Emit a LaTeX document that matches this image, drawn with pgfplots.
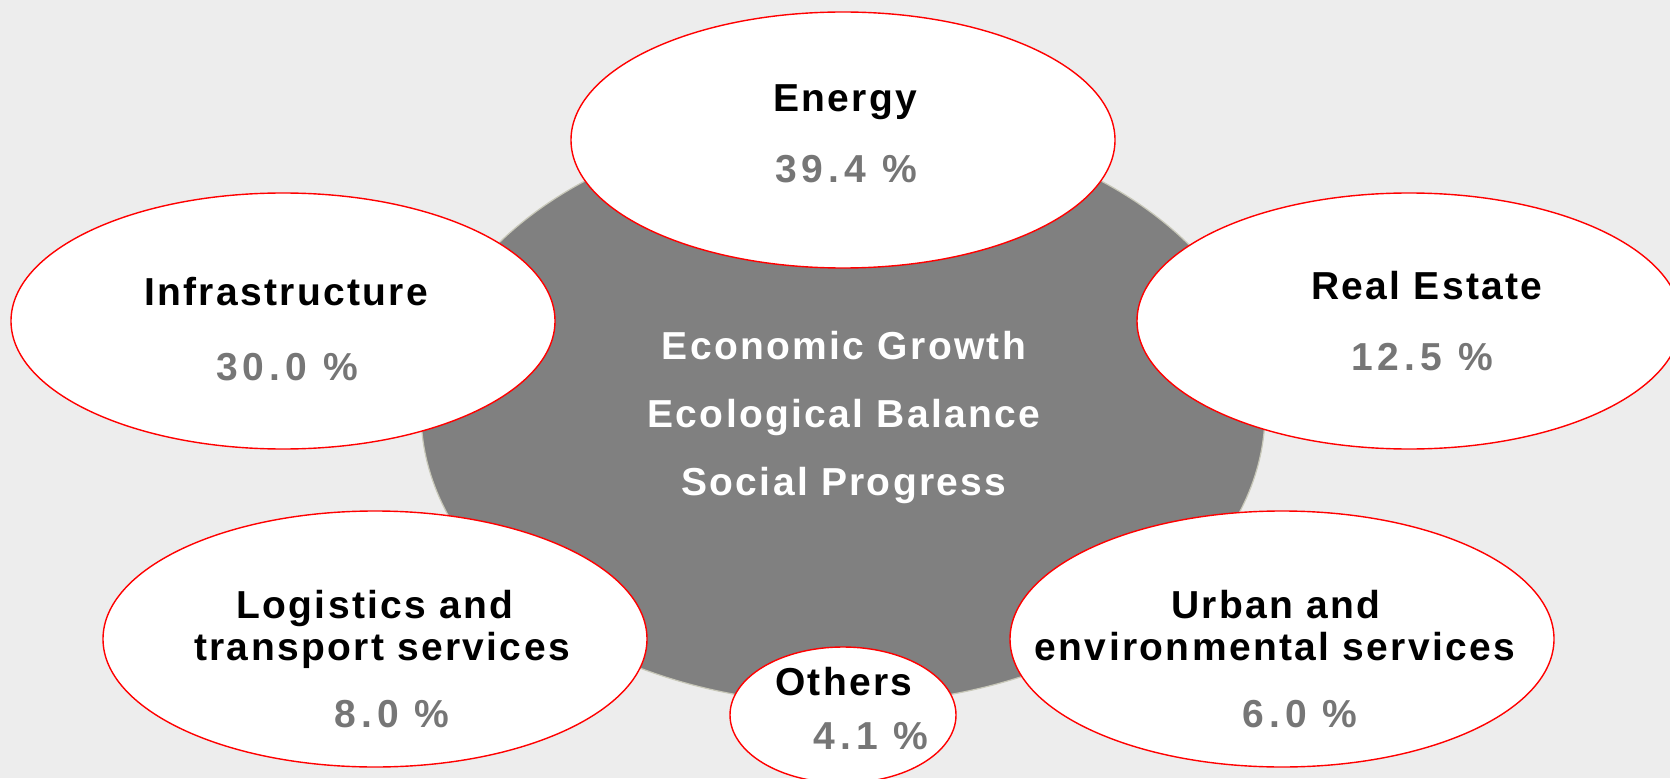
\documentclass[border=0pt]{standalone}
\usepackage{fontspec}
\setmainfont{Liberation Sans}
\newfontfamily\lab[LetterSpace=6]{Liberation Sans}
\newfontfamily\pct[LetterSpace=13]{Liberation Sans}
\usepackage{pgfplots}
\pgfplotsset{compat=1.18}
\definecolor{bgcol}{HTML}{EDEDED}
\definecolor{core}{HTML}{808080}
\definecolor{pctcol}{HTML}{767676}
\definecolor{rim}{HTML}{FF0000}
\begin{document}
\begin{tikzpicture}
\begin{axis}[
  width=835pt, height=389pt, scale only axis,
  xmin=0, xmax=1670, ymin=0, ymax=778,
  hide axis, clip=true,
]
\fill[bgcol] (axis cs:0,0) rectangle (axis cs:1670,778);
% central ellipse
\fill[core] (axis cs:843,366) ellipse [x radius=422, y radius=292];
\draw[color={rgb,255:red,200;green,200;blue,185}, line width=0.6pt] (axis cs:843,366) ellipse [x radius=422, y radius=292];
\begin{scope}[every node/.style={anchor=base, text=white, font=\lab\bfseries\fontsize{19.5}{21}\selectfont}]
\node at (axis cs:844,419) {Economic Growth};
\node at (axis cs:844,351) {Ecological Balance};
\node at (axis cs:844,283) {Social Progress};
\end{scope}
% sector ellipses
\begin{scope}[every path/.style={fill=white, draw=rim, line width=0.7pt}]
\filldraw (axis cs:843,638) ellipse [x radius=272, y radius=128];
\filldraw (axis cs:283,457) ellipse [x radius=272, y radius=128];
\filldraw (axis cs:1409,457) ellipse [x radius=272, y radius=128];
\filldraw (axis cs:375,139) ellipse [x radius=272, y radius=128];
\filldraw (axis cs:1282,139) ellipse [x radius=272, y radius=128];
\filldraw (axis cs:843,63) ellipse [x radius=113, y radius=68];
\end{scope}
\begin{scope}[every node/.style={anchor=base, text=black, font=\lab\bfseries\fontsize{19.5}{21}\selectfont}]
\node at (axis cs:845,666) {Energy};
\node at (axis cs:286,473) {Infrastructure};
\node at (axis cs:1427,479) {Real Estate};
\node at (axis cs:375,160) {Logistics and};
\node at (axis cs:382,118) {transport services};
\node at (axis cs:1276,160) {Urban and};
\node at (axis cs:1275,118) {environmental services};
\node at (axis cs:844,83) {Others};
\end{scope}
\begin{scope}[every node/.style={anchor=base, text=pctcol, font=\pct\bfseries\fontsize{19.5}{21}\selectfont}]
\node at (axis cs:846,595) {39.4 \%};
\node at (axis cs:287,398) {30.0 \%};
\node at (axis cs:1422,408) {12.5 \%};
\node at (axis cs:392,51) {8.0 \%};
\node at (axis cs:1300,51) {6.0 \%};
\node at (axis cs:871,29) {4.1 \%};
\end{scope}
\end{axis}
\pgfresetboundingbox
\path (current axis.south west) rectangle (current axis.north east);
\end{tikzpicture}
\end{document}
